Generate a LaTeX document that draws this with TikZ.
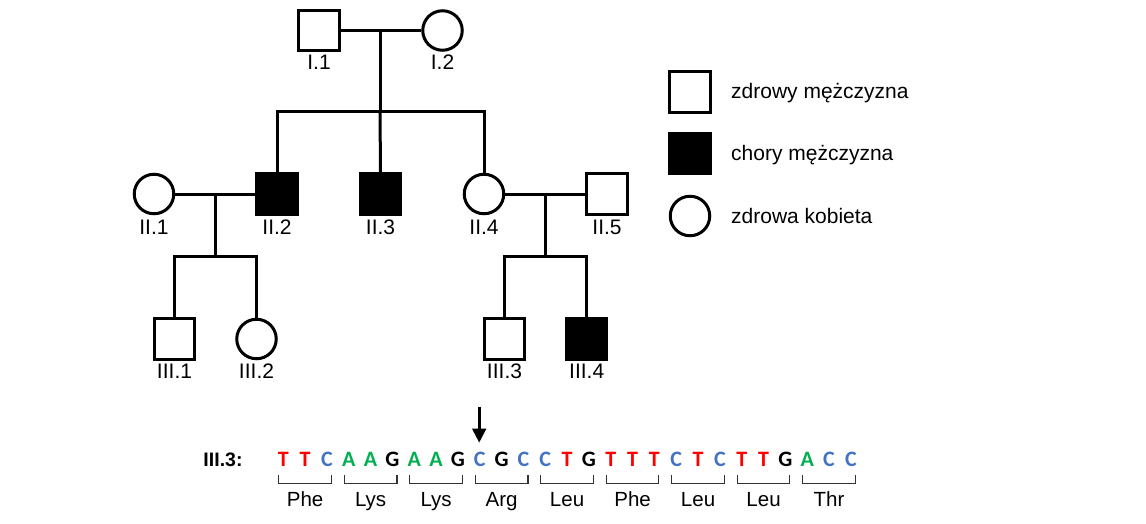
\documentclass[tikz,border=0pt]{standalone}
\usepackage{fontspec}
\setmainfont{Liberation Sans}
\newfontfamily\basefont{Carlito}
\usetikzlibrary{arrows.meta}
\definecolor{bT}{HTML}{FF0000}
\definecolor{bC}{HTML}{4472C4}
\definecolor{bA}{HTML}{00B050}
\definecolor{bG}{HTML}{000000}
\tikzset{
  pline/.style={line width=3pt},
  male/.style={rectangle, draw, line width=3pt, minimum size=40.5pt, inner sep=0pt, fill=white},
  affected/.style={male, fill=black},
  female/.style={circle, draw, line width=3pt, minimum size=39.5pt, inner sep=0pt, fill=white},
  plabel/.style={font=\fontsize{21}{24}\selectfont, inner sep=0pt, anchor=base},
  legtext/.style={font=\fontsize{21}{25}\selectfont, inner sep=0pt, anchor=base west},
  basestyle/.style={font=\basefont\bfseries\fontsize{22}{26}\selectfont, inner sep=0pt, anchor=base},
  aalabel/.style={font=\fontsize{20.5}{23}\selectfont, inner sep=0pt, anchor=base},
  bracketline/.style={line width=1.2pt, draw=black!80},
  arrowline/.style={line width=3pt, -{Triangle[length=14pt,width=13.5pt]}}
}
\begin{document}
\begin{tikzpicture}[x=1pt,y=-1pt]
\useasboundingbox (0,0) rectangle (1146,524);

% generation I
\node[male]   (I1) at (319,30.5) {};
\node[female] (I2) at (442.5,30.5) {};
\node[plabel] (lI1) at (319,70) {I.1};
\node[plabel] (lI2) at (442.5,70) {I.2};
\coordinate (m1) at (380,30.5);
\coordinate (s1) at (380,112);

% generation II
\node[female]   (II1) at (154,194) {};
\node[affected] (II2) at (277,194) {};
\node[affected] (II3) at (380.5,194) {};
\node[female]   (II4) at (484,194) {};
\node[male]     (II5) at (607,194) {};
\node[plabel] (lII1) at (154,234) {II.1};
\node[plabel] (lII2) at (277,234) {II.2};
\node[plabel] (lII3) at (380.5,234) {II.3};
\node[plabel] (lII4) at (484,234) {II.4};
\node[plabel] (lII5) at (607,234) {II.5};
\coordinate (m2) at (215,194);
\coordinate (s2) at (215,256);
\coordinate (m3) at (545,194);
\coordinate (s3) at (545,256);

% generation III
\node[male]     (III1) at (174.5,339) {};
\node[female]   (III2) at (256.5,339) {};
\node[male]     (III3) at (504.5,339) {};
\node[affected] (III4) at (586.7,339) {};
\node[plabel] (lIII1) at (174.5,378.5) {III.1};
\node[plabel] (lIII2) at (256.5,378.5) {III.2};
\node[plabel] (lIII3) at (504.5,378.5) {III.3};
\node[plabel] (lIII4) at (586.7,378.5) {III.4};

% connectors
\draw[pline] (I1.east) -- (I2.west);
\draw[pline] (m1) -- (s1);
\draw[pline] (II2.north) |- (s1) -| (II4.north);
\draw[pline] (s1) -- (II3.north);

\draw[pline] (II1.east) -- (II2.west);
\draw[pline] (m2) -- (s2);
\draw[pline] (III1.north) |- (s2) -| (III2.north);

\draw[pline] (II4.east) -- (II5.west);
\draw[pline] (m3) -- (s3);
\draw[pline] (III3.north) |- (s3) -| (III4.north);

% legend
\node[male]     (L1) at (690,92) {};
\node[affected] (L2) at (690,153.5) {};
\node[female]   (L3) at (690,216) {};
\node[legtext] (tL1) at (731,99) {zdrowy mężczyzna};
\node[legtext] (tL2) at (731,160.5) {chory mężczyzna};
\node[legtext] (tL3) at (731,223) {zdrowa kobieta};

% sequence
\node[font=\bfseries\fontsize{19.5}{23}\selectfont, inner sep=0pt, anchor=base] (seqlabel) at (223,466.7) {III.3:};
\foreach \b/\c [count=\i from 0] in {T/bT,T/bT,C/bC,A/bA,A/bA,G/bG,A/bA,A/bA,G/bG,C/bC,G/bG,C/bC,C/bC,T/bT,G/bG,T/bT,T/bT,T/bT,C/bC,T/bT,C/bC,T/bT,T/bT,G/bG,A/bA,C/bC,C/bC}{
  \node[basestyle, text=\c] (b\i) at ({283.3+21.83*\i},466.7) {\b};
}
\foreach \aa [count=\k from 0] in {Phe,Lys,Lys,Arg,Leu,Phe,Leu,Leu,Thr}{
  \pgfmathsetmacro\cx{283.3+21.83*(3*\k+1)}
  \draw[bracketline] ({\cx-26.3},475) -- ({\cx-26.3},483.5) -- ({\cx+26.3},483.5) -- ({\cx+26.3},475);
  \node[aalabel] (aa\k) at (\cx,506.7) {\aa};
}

% arrow
\coordinate (arrtop) at (479.2,406.5);
\coordinate (arrtip) at (479.2,442.7);
\draw[arrowline] (arrtop) -- (arrtip);
\end{tikzpicture}
\end{document}
